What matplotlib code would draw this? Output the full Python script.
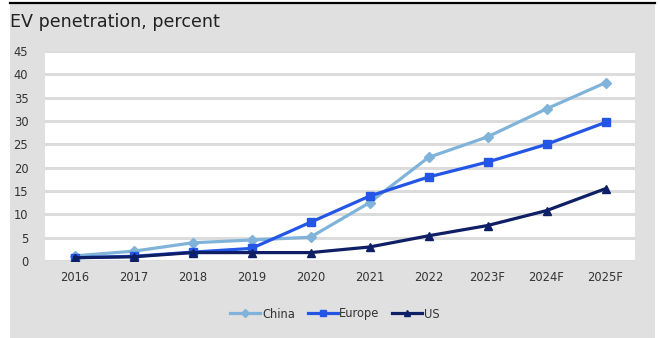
import matplotlib
matplotlib.use("Agg")
import matplotlib.pyplot as plt
from matplotlib.patches import Rectangle
from matplotlib.lines import Line2D

years = ["2016", "2017", "2018", "2019", "2020", "2021", "2022", "2023F", "2024F", "2025F"]
china = [1.1, 2.1, 3.9, 4.5, 5.1, 12.5, 22.2, 26.6, 32.6, 38.2]
europe = [0.7, 1.0, 1.9, 2.7, 8.3, 13.9, 18.0, 21.2, 25.0, 29.7]
us = [0.7, 0.9, 1.8, 1.8, 1.8, 3.0, 5.4, 7.6, 10.8, 15.5]
yticks = [0, 5, 10, 15, 20, 25, 30, 35, 40, 45]

W, H = 660, 338
fig = plt.figure(figsize=(W / 100, H / 100), dpi=100)
fig.patch.set_facecolor("white")

gray = "#e0e0e0"
fig.patches.append(Rectangle((10 / W, 0), 645 / W, 1 - 3 / H, transform=fig.transFigure,
                             facecolor=gray, edgecolor="none", zorder=-10))
fig.lines.append(Line2D([10 / W, 655 / W], [1 - 2.5 / H, 1 - 2.5 / H], transform=fig.transFigure,
                        color="black", linewidth=1.6, zorder=-5))

fig.text(10 / W, 1 - 27 / H, "EV penetration, percent", fontsize=12.6, color="#222222",
         va="baseline", ha="left")

ax = fig.add_axes([45 / W, 1 - 261 / H, 590 / W, 210 / H])
ax.set_zorder(1)
ax.set_facecolor("white")
x = list(range(len(years)))
ax.plot(x, china, color="#80b3d9", marker="D", markersize=5.5, linewidth=2.3, label="China", zorder=3)
ax.plot(x, europe, color="#2456e6", marker="s", markersize=6, linewidth=2.3, label="Europe", zorder=4)
ax.plot(x, us, color="#0f1f66", marker="^", markersize=6, linewidth=2.3, label="US", zorder=5)

ax.set_xlim(-0.5, len(years) - 0.5)
ax.set_ylim(0, 45)
ax.set_yticks(yticks)
ax.set_xticks(x)
ax.set_xticklabels(years)
ax.yaxis.grid(True, color="#dcdcdc", linewidth=2.2)
ax.set_axisbelow(True)
for s in ax.spines.values():
    s.set_visible(False)
ax.tick_params(axis="both", length=0, labelsize=8.3, colors="#333333")
ax.tick_params(axis="y", pad=12)
ax.tick_params(axis="x", pad=7)

leg = fig.legend(loc="center", bbox_to_anchor=(335 / W, 1 - 314 / H), ncol=3, frameon=False,
                 fontsize=8.3, handlelength=2.6, handletextpad=0.15, columnspacing=1.1,
                 markerscale=0.75)
for t in leg.get_texts():
    t.set_color("#333333")

fig.savefig("out.png", dpi=100, facecolor=fig.get_facecolor())
